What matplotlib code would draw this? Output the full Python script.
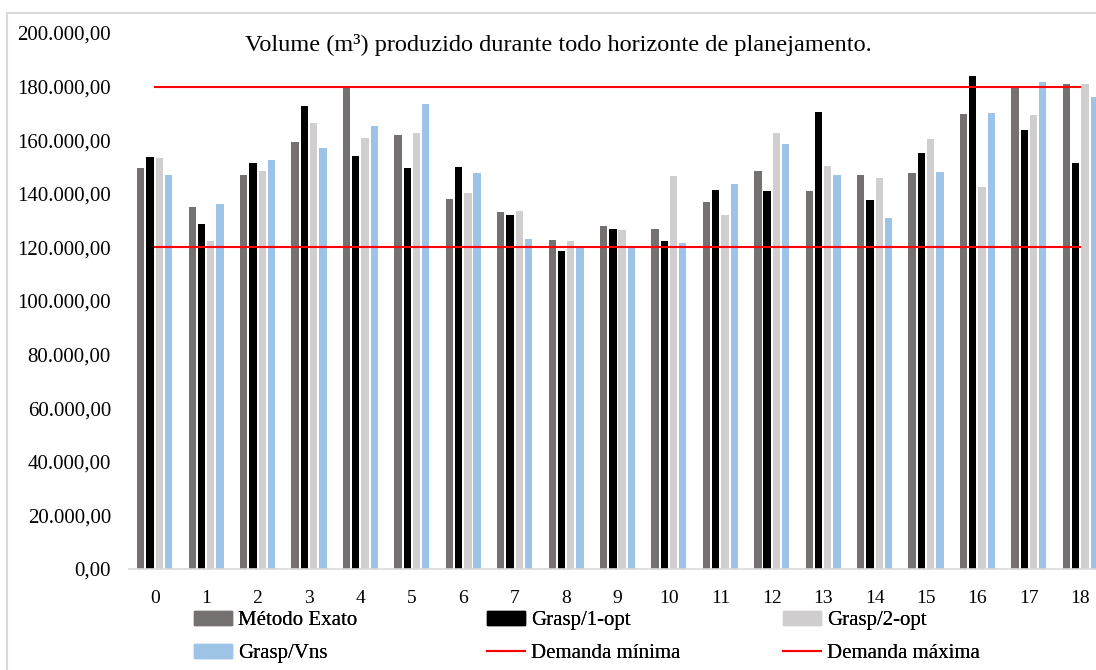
import matplotlib
matplotlib.use("Agg")
import matplotlib.pyplot as plt
import numpy as np
from matplotlib.patches import Rectangle, Patch
from matplotlib.lines import Line2D
from matplotlib.ticker import FuncFormatter

periodos = list(range(19))
metodo_exato = [149600, 135000, 147000, 159300, 179700, 161800, 138200, 133300, 122600, 127900,
                127000, 137100, 148500, 141200, 147000, 147800, 169800, 180100, 180800]
grasp_1opt = [153700, 128600, 151500, 172600, 154100, 149600, 150000, 132200, 118500, 126700,
              122300, 141500, 141200, 170400, 137800, 155200, 183900, 163800, 151500]
grasp_2opt = [153300, 122300, 148500, 166400, 160800, 162700, 140400, 133700, 122300, 126600,
              146600, 132200, 162700, 150400, 145900, 160400, 142700, 169400, 180800]
grasp_vns = [147000, 136300, 152700, 157100, 165300, 173500, 147800, 123000, 120200, 119800,
             121800, 143700, 158600, 147000, 131100, 148100, 170100, 181700, 176000]
demanda_min = 120000
demanda_max = 180000

series = [
    ("Método Exato", metodo_exato, "#767171"),
    ("Grasp/1-opt", grasp_1opt, "#000000"),
    ("Grasp/2-opt", grasp_2opt, "#D0CECE"),
    ("Grasp/Vns", grasp_vns, "#9DC3E6"),
]

plt.rcParams["font.family"] = ["Liberation Serif", "DejaVu Serif"]

fig = plt.figure(figsize=(10.96, 6.70), dpi=100)
ax = fig.add_axes([129 / 1096, 101 / 670, 977 / 1096, 536 / 670])

x = np.array(periodos)
passo = 0.18
largura = 0.142
for i, (nome, valores, cor) in enumerate(series):
    ax.bar(x + (i - 1.5) * passo, valores, largura, color=cor, label=nome, zorder=2)

ax.plot([x[0], x[-1]], [demanda_min] * 2, color="#FF0000", lw=1.5, zorder=3)
ax.plot([x[0], x[-1]], [demanda_max] * 2, color="#FF0000", lw=1.5, zorder=3)

ax.set_xlim(-0.5, 18.5)
ax.set_ylim(0, 200000)
ax.set_yticks(np.arange(0, 200001, 20000))
ax.yaxis.set_major_formatter(FuncFormatter(
    lambda v, p: f"{v:,.2f}".replace(",", "X").replace(".", ",").replace("X", ".")))
ax.set_xticks(x)
ax.set_xticklabels([str(p) for p in periodos])
for s in ["top", "right", "left"]:
    ax.spines[s].set_visible(False)
ax.spines["bottom"].set_color("#D9D9D9")
ax.spines["bottom"].set_linewidth(1.2)
ax.tick_params(axis="both", length=0, colors="#000000")
ax.tick_params(axis="x", pad=15, labelsize=14)
ax.tick_params(axis="y", pad=13, labelsize=15)

fig.text(558 / 1096, 1 - 45 / 670, "Volume (m³) produzido durante todo horizonte de planejamento.",
         ha="center", va="center", fontsize=17.5)

linha = dict(color="#FF0000", lw=1.5)
colunas = [
    ([Patch(color=series[0][2]), Patch(color=series[3][2])], [series[0][0], series[3][0]], 194),
    ([Patch(color=series[1][2]), Line2D([], [], **linha)], [series[1][0], "Demanda mínima"], 487),
    ([Patch(color=series[2][2]), Line2D([], [], **linha)], [series[2][0], "Demanda máxima"], 783),
]
for hs, ls, xpx in colunas:
    leg = fig.legend(hs, ls, loc="center left", bbox_to_anchor=(xpx / 1096, 1 - 637 / 670),
                     frameon=False, fontsize=15, handlelength=1.8, handleheight=0.65,
                     handletextpad=0.3, labelspacing=0.65, borderaxespad=0, borderpad=0)
    fig.add_artist(leg)

fig.patches.append(Rectangle((7 / 1096, -0.1), 1.2, 1 - 13 / 670 + 0.1, transform=fig.transFigure,
                             fill=False, edgecolor="#D9D9D9", lw=1.5))

fig.savefig("out.png", dpi=100)
